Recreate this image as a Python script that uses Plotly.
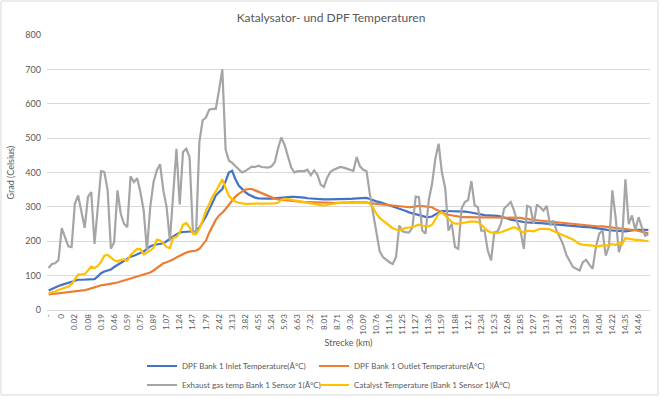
import plotly.graph_objects as go

# Tick labels (Strecke in km), one label every 4 samples
tick_labels = ["-", "0", "0.02", "0.08", "0.19", "0.46", "0.59", "0.75", "0.89", "1.07",
               "1.24", "1.47", "1.79", "2.42", "3.13", "3.82", "4.55", "5.24", "5.93", "6.63",
               "7.32", "8.01", "8.71", "9.36", "10.09", "10.76", "11.16", "11.25", "11.27", "11.36",
               "11.59", "11.88", "12.1", "12.34", "12.53", "12.68", "12.85", "12.97", "13.19", "13.41",
               "13.65", "13.87", "14.04", "14.22", "14.35", "14.46"]
label_step = 4

dpf_inlet = [57, 62, 66, 70, 73, 76, 80, 84, 87, 88,
             88, 88, 89, 90, 90, 98, 107, 112, 116, 118,
             125, 131, 137, 143, 150, 155, 158, 162, 166, 170,
             178, 185, 189, 191, 193, 194, 200, 208, 214, 220,
             225, 227, 228, 228, 230, 229, 240, 255, 272, 292,
             315, 333, 343, 352, 375, 400, 405, 380, 362, 352,
             343, 336, 331, 327, 325, 324, 324, 324, 324, 325,
             326, 328, 329, 329, 329, 329, 329, 328, 327, 325,
             324, 323, 323, 323, 322, 322, 322, 321, 321, 322,
             323, 323, 323, 324, 324, 324, 325, 326, 323, 319,
             316, 314, 311, 308, 304, 301, 298, 295, 292, 288,
             284, 281, 278, 275, 273, 271, 270, 272, 278, 284,
             288, 288, 288, 288, 287, 287, 287, 286, 285, 283,
             280, 278, 277, 276, 275, 275, 275, 274, 272, 268,
             266, 263, 261, 258, 256, 256, 255, 255, 254, 253,
             253, 252, 251, 250, 249, 248, 247, 246, 245, 245,
             244, 244, 243, 242, 241, 241, 240, 239, 237, 236,
             234, 232, 231, 230, 229, 229, 229, 230, 232, 233,
             233, 233, 233, 233]

dpf_outlet = [45, 46, 47, 48, 49, 50, 51, 53, 55, 56,
              57, 58, 60, 63, 67, 70, 72, 73, 74, 76,
              78, 80, 83, 86, 89, 92, 95, 98, 101, 103,
              106, 109, 115, 122, 130, 136, 139, 142, 147, 153,
              158, 163, 167, 170, 172, 173, 178, 190, 202, 225,
              245, 262, 275, 283, 294, 306, 318, 330, 338, 345,
              350, 352, 352, 348, 344, 340, 335, 331, 327, 324,
              322, 321, 319, 317, 316, 315, 314, 314, 314, 314,
              314, 314, 314, 313, 313, 312, 312, 311, 311, 311,
              311, 312, 313, 314, 314, 314, 314, 313, 311, 310,
              309, 308, 307, 306, 305, 304, 303, 301, 300, 299,
              299, 300, 302, 303, 302, 301, 300, 299, 293, 288,
              284, 280, 277, 275, 272, 270, 270, 270, 270, 270,
              270, 270, 270, 270, 270, 270, 270, 270, 270, 270,
              270, 269, 269, 268, 268, 266, 264, 263, 262, 261,
              260, 259, 258, 257, 256, 255, 254, 253, 252, 251,
              250, 249, 248, 247, 246, 246, 245, 244, 243, 243,
              242, 241, 240, 239, 238, 237, 237, 236, 234, 232,
              230, 228, 225, 223]

exhaust_gas = [122, 134, 136, 145, 238, 212, 185, 183, 309, 333,
               285, 239, 329, 343, 192, 299, 404, 401, 348, 178,
               197, 348, 280, 251, 241, 389, 372, 383, 343, 290,
               173, 299, 372, 406, 424, 348, 299, 202, 329, 469,
               307, 460, 469, 445, 231, 226, 490, 552, 560, 583,
               585, 585, 640, 700, 467, 435, 428, 418, 408, 400,
               404, 410, 417, 416, 420, 416, 415, 414, 418, 430,
               470, 502, 480, 450, 415, 400, 404, 404, 404, 408,
               392, 406, 394, 365, 358, 385, 402, 408, 412, 416,
               414, 411, 406, 405, 445, 418, 408, 404, 338, 285,
               222, 171, 154, 146, 139, 134, 154, 246, 229, 226,
               226, 240, 330, 328, 231, 222, 320, 367, 440, 484,
               400, 355, 231, 251, 183, 178, 295, 314, 320, 375,
               304, 299, 231, 231, 173, 144, 226, 229, 251, 295,
               305, 314, 290, 255, 230, 178, 303, 299, 251, 307,
               299, 289, 303, 246, 260, 230, 212, 190, 160, 140,
               125, 120, 115, 139, 146, 132, 120, 183, 222, 231,
               158, 187, 348, 270, 168, 202, 380, 250, 275, 233,
               270, 241, 216, 220]

catalyst = [49, 51, 54, 58, 62, 66, 68, 75, 88, 103,
            104, 104, 115, 126, 122, 128, 140, 158, 160, 152,
            145, 141, 146, 147, 143, 160, 170, 178, 177, 162,
            167, 173, 180, 205, 202, 195, 183, 180, 210, 212,
            225, 248, 253, 240, 222, 220, 236, 260, 290, 308,
            330, 345, 365, 380, 355, 332, 322, 315, 312, 310,
            309, 309, 309, 309, 309, 309, 309, 309, 309, 310,
            312, 320, 323, 323, 321, 319, 317, 315, 313, 311,
            310, 309, 307, 305, 304, 305, 307, 309, 311, 311,
            311, 311, 312, 313, 314, 314, 313, 312, 310, 298,
            280, 268, 260, 252, 246, 238, 234, 231, 235, 239,
            240, 241, 245, 248, 245, 243, 243, 248, 265, 280,
            284, 276, 266, 256, 251, 251, 253, 256, 257, 258,
            257, 256, 248, 238, 230, 226, 224, 224, 226, 230,
            235, 238, 241, 237, 230, 226, 230, 230, 229, 233,
            236, 236, 236, 235, 230, 226, 221, 217, 212, 208,
            205, 198, 192, 190, 189, 188, 188, 187, 185, 188,
            189, 188, 192, 189, 196, 192, 209, 207, 205, 204,
            204, 202, 200, 200]

series_names = ["DPF Bank 1 Inlet Temperature(Â°C)",
                "DPF Bank 1 Outlet Temperature(Â°C)",
                "Exhaust gas temp Bank 1 Sensor 1(Â°C)",
                "Catalyst Temperature (Bank 1 Sensor 1)(Â°C)"]
series_colors = ["#4472C4", "#ED7D31", "#A5A5A5", "#FFC000"]
series_values = [dpf_inlet, dpf_outlet, exhaust_gas, catalyst]
series_legend = ["legend", "legend2", "legend", "legend2"]

n = len(dpf_inlet)
x_idx = list(range(n))

W, H = 662, 399
L, R, T, B = 47, 12, 35, 89
FONT = "Lato, 'Open Sans', sans-serif"
GREY = "#595959"

fig = go.Figure()
for name, col, vals, lg in zip(series_names, series_colors, series_values, series_legend):
    fig.add_trace(go.Scatter(x=x_idx, y=vals, mode="lines", name=name,
                             line=dict(color=col, width=2.2), legend=lg))

tickvals = [i * label_step for i in range(len(tick_labels))]
pw = W - L - R
ph = H - T - B

legend_top = 1 - 351.5 / H
fig.update_layout(
    width=W, height=H,
    margin=dict(l=L, r=R, t=T, b=B, autoexpand=False),
    paper_bgcolor="white", plot_bgcolor="white",
    font=dict(family=FONT, color=GREY, size=9),
    title=dict(text="Katalysator- und DPF Temperaturen", x=0.5, xanchor="center",
               y=1 - 18 / H, yanchor="middle", font=dict(size=12, color=GREY, family=FONT)),
    xaxis=dict(range=[-0.5, n - 0.5], tickmode="array", tickvals=tickvals, ticktext=tick_labels,
               tickangle=-90, showgrid=False, zeroline=False, showline=True, linecolor="#D9D9D9",
               linewidth=1, ticks="", tickfont=dict(size=8, color=GREY),
               title=dict(text="Strecke (km)", standoff=6, font=dict(size=9, color=GREY)),
               automargin=False, fixedrange=True),
    yaxis=dict(range=[0, 800], dtick=100, tick0=0, showgrid=True, gridcolor="#D9D9D9", gridwidth=1,
               zeroline=False, showline=False, ticks="", ticklabelstandoff=5,
               tickfont=dict(size=9, color=GREY),
               automargin=False, fixedrange=True),
    legend=dict(orientation="v", xref="container", yref="container", x=142 / W, xanchor="left",
                y=legend_top, yanchor="top", font=dict(size=8, color=GREY),
                bgcolor="rgba(0,0,0,0)", borderwidth=0, traceorder="normal"),
    legend2=dict(orientation="v", xref="container", yref="container", x=314 / W, xanchor="left",
                 y=legend_top, yanchor="top", font=dict(size=8, color=GREY),
                 bgcolor="rgba(0,0,0,0)", borderwidth=0, traceorder="normal"),
    showlegend=True,
)

# y axis title
fig.add_annotation(text="Grad (Celsius)", xref="paper", yref="paper",
                   x=(10 - L) / pw, y=0.5, textangle=-90, showarrow=False,
                   xanchor="center", yanchor="middle", font=dict(size=9, color=GREY))

# chart-area border
fig.add_shape(type="rect", xref="paper", yref="paper",
              x0=(1 - L) / pw, x1=(658 - L) / pw,
              y0=(H - B - 395) / ph, y1=(H - B - 1) / ph,
              line=dict(color="#D9D9D9", width=1), fillcolor="rgba(0,0,0,0)", layer="below")

fig.write_html("out.html", config={"displayModeBar": False},
               post_script="document.body.style.margin='0';")
